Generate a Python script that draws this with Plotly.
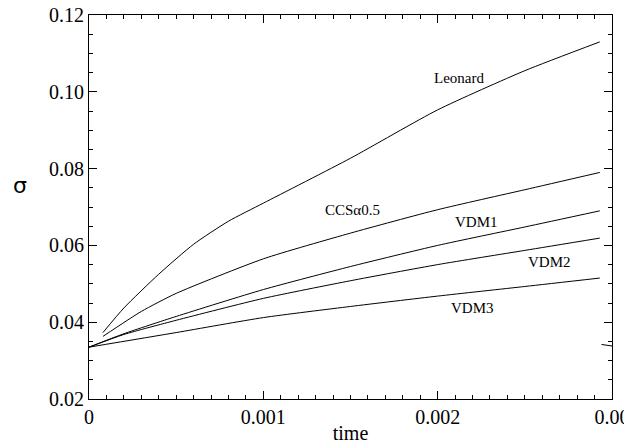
import plotly.graph_objects as go

# curve values (time, sigma)
leonard_t = [0.00008, 0.0002, 0.0004, 0.0006, 0.0008, 0.001, 0.0015, 0.002, 0.0025, 0.00293]
leonard_s = [0.0373, 0.0437, 0.0525, 0.0603, 0.0663, 0.0710, 0.0827, 0.0953, 0.1055, 0.1130]

ccs_t = [0.00008, 0.0003, 0.0005, 0.001, 0.0015, 0.002, 0.0025, 0.00293]
ccs_s = [0.0363, 0.0428, 0.0475, 0.0565, 0.0632, 0.0693, 0.0745, 0.0790]

vdm1_t = [0.0, 0.0002, 0.0005, 0.001, 0.0015, 0.002, 0.0025, 0.00293]
vdm1_s = [0.0335, 0.0370, 0.0415, 0.0485, 0.0545, 0.0600, 0.0648, 0.0690]

vdm2_t = [0.0, 0.0002, 0.0005, 0.001, 0.0015, 0.002, 0.0025, 0.00293]
vdm2_s = [0.0335, 0.0368, 0.0405, 0.0462, 0.0508, 0.0550, 0.0587, 0.0619]

vdm3_t = [0.0, 0.0005, 0.001, 0.0015, 0.002, 0.0025, 0.00293]
vdm3_s = [0.0335, 0.0373, 0.0412, 0.0441, 0.0468, 0.0493, 0.0515]

stub_t = [0.00294, 0.003]
stub_s = [0.0342, 0.0338]

curves = [("Leonard", leonard_t, leonard_s), ("CCS", ccs_t, ccs_s),
          ("VDM1", vdm1_t, vdm1_s), ("VDM2", vdm2_t, vdm2_s),
          ("VDM3", vdm3_t, vdm3_s), ("stub", stub_t, stub_s)]

# curve labels: text, time, sigma
label_text = ["Leonard", "CCS\u03b10.5", "VDM1", "VDM2", "VDM3"]
label_t = [0.00212, 0.00151, 0.00222, 0.00264, 0.00220]
label_s = [0.1036, 0.0693, 0.0662, 0.0558, 0.0437]

x_tickvals = [0, 0.001, 0.002, 0.003]
x_ticktext = ["0", "0.001", "0.002", "0.00"]
y_tickvals = [0.02, 0.04, 0.06, 0.08, 0.10, 0.12]
y_ticktext = ["0.02", "0.04", "0.06", "0.08", "0.10", "0.12"]

SERIF = "Liberation Serif"

fig = go.Figure()
for name, t, s in curves:
    fig.add_trace(go.Scatter(x=t, y=s, mode="lines", name=name,
                             line=dict(color="black", width=1, shape="spline", smoothing=0.6)))

for txt, t, s in zip(label_text, label_t, label_s):
    fig.add_annotation(x=t, y=s, text=txt, showarrow=False,
                       font=dict(family=SERIF, size=15, color="black"))

fig.add_annotation(x=-0.149, y=0.557, xref="paper", yref="paper", text="\u03c3",
                   showarrow=False, font=dict(family="DejaVu Sans", size=22, color="black"))

fig.update_xaxes(range=[0, 0.003], tickvals=x_tickvals, ticktext=x_ticktext,
                 tickfont=dict(family=SERIF, size=20, color="black"), automargin=False,
                 ticklabeloverflow="allow",
                 showline=True, linecolor="black", linewidth=1, mirror="allticks",
                 ticks="inside", ticklen=8, tickcolor="black", showgrid=False, zeroline=False,
                 minor=dict(dtick=0.0001, tick0=0, ticks="inside", ticklen=4, tickcolor="black"),
                 title=dict(text="time", standoff=0,
                            font=dict(family=SERIF, size=20, color="black")))
fig.update_yaxes(range=[0.02, 0.12], tickvals=y_tickvals, ticktext=y_ticktext,
                 tickfont=dict(family=SERIF, size=20, color="black"), automargin=False,
                 ticklabeloverflow="allow",
                 showline=True, linecolor="black", linewidth=1, mirror="allticks",
                 ticks="inside", ticklen=8, tickcolor="black", showgrid=False, zeroline=False,
                 minor=dict(dtick=0.005, tick0=0, ticks="inside", ticklen=4, tickcolor="black"))

# page body adds an 8px margin, so the figure is 8px smaller than the window
fig.update_layout(width=624, height=436, showlegend=False,
                  margin=dict(l=81, r=20, t=7, b=45),
                  plot_bgcolor="white", paper_bgcolor="white")

fig.write_html("out.html")
